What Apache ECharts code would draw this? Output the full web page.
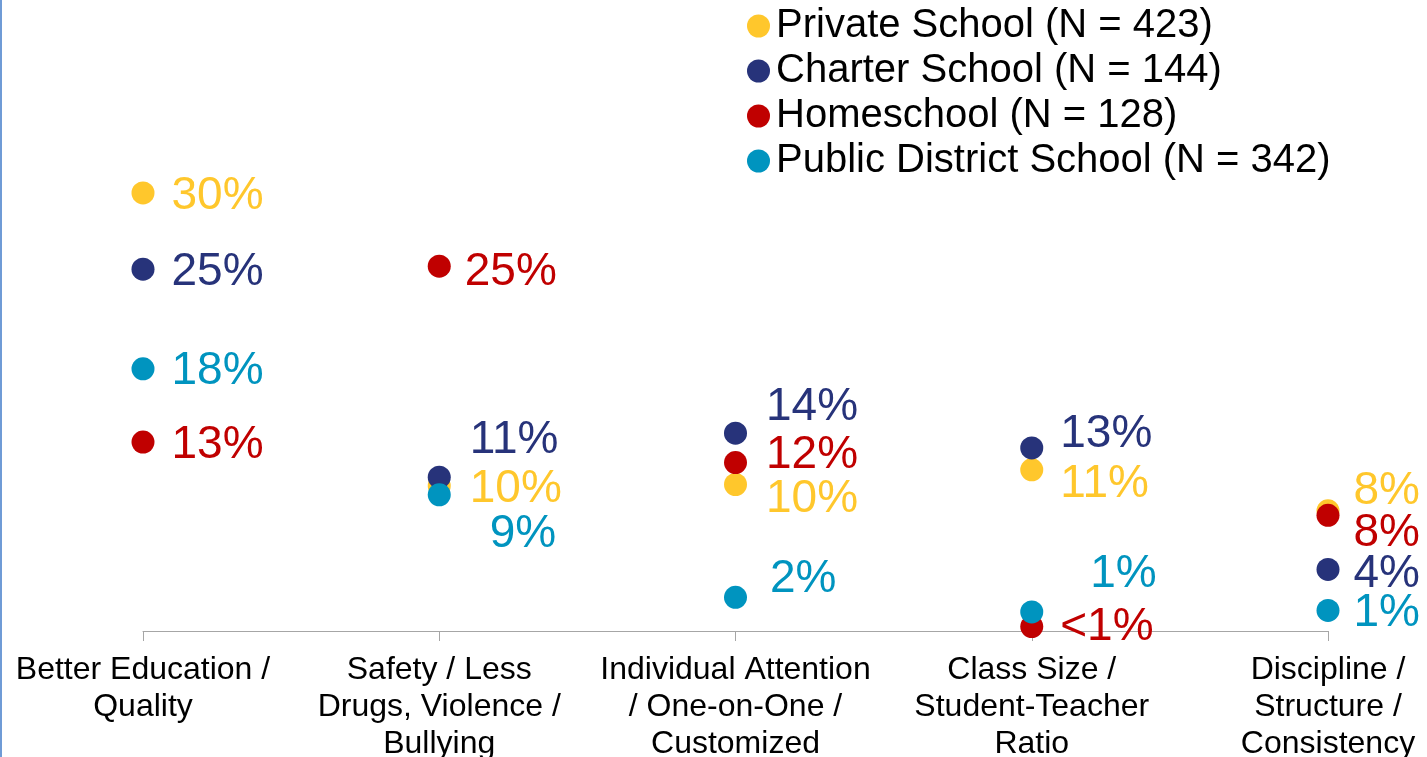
<!DOCTYPE html>
<html>
<head>
<meta charset="utf-8">
<script src="https://cdn.jsdelivr.net/npm/echarts@6/dist/echarts.min.js"></script>
<style>
  html, body { margin: 0; padding: 0; background: #fff; }
  #main { width: 1427px; height: 757px; position: relative; }
  #edge { position: absolute; left: 0; top: 0; width: 2px; height: 757px; background: #6f9bd6; z-index: 5; }
</style>
</head>
<body>
<div id="edge"></div>
<div id="main"></div>
<script>
// reasons for choosing the school (share of respondents, %)
var categories = [
  'Better Education /\nQuality',
  'Safety / Less\nDrugs, Violence /\nBullying',
  'Individual Attention\n/ One-on-One /\nCustomized',
  'Class Size /\nStudent-Teacher\nRatio',
  'Discipline /\nStructure /\nConsistency'
];
var seriesNames = [
  'Private School (N = 423)',
  'Charter School (N = 144)',
  'Homeschool (N = 128)',
  'Public District School (N = 342)'
];
var privateSchool = [29.9, 9.9, 10.0, 11.0, 8.2];
var charterSchool = [24.7, 10.5, 13.5, 12.5, 4.2];
var homeschool = [12.9, 24.9, 11.5, 0.3, 7.9];
var publicDistrict = [17.9, 9.3, 2.3, 1.3, 1.4];

var colors = ['#FFC72C', '#27337A', '#C00000', '#0094BF'];

// hand placed label nudges (like the original chart), [dx, dy] per point
var labelShift = [
  [[0, 0], [2, 0], [2, 12], [0, 11], [-3, -23]],
  [[0, 0], [2, -40], [2, -29], [0, -17], [-3, 2]],
  [[0, 0], [-3, 3], [2, -10], [0, -2], [-3, 15]],
  [[0, 0], [22, 37], [6, -21], [30, -41], [-3, 0]]
];

var chart = echarts.init(document.getElementById('main'));

function pctLabel(p) {
  var v = p.value;
  if (v < 0.5) return '<1%';
  return Math.round(v) + '%';
}

var allValues = [privateSchool, charterSchool, homeschool, publicDistrict];
var series = allValues.map(function (vals, si) {
  return {
    name: seriesNames[si],
    type: 'scatter',
    symbol: 'circle',
    symbolSize: 23,
    itemStyle: { color: colors[si], opacity: 1 },
    label: {
      show: true,
      position: 'right',
      distance: 17,
      color: colors[si],
      fontSize: 46,
      fontFamily: 'Liberation Sans, Arial, sans-serif',
      formatter: pctLabel
    },
    data: vals.map(function (v, i) {
      var s = labelShift[si][i];
      return { value: v, label: { offset: [s[0], s[1] + 3] } };
    })
  };
});

var option = {
  animation: false,
  color: colors,
  grid: { left: 143, right: 99, top: 45, bottom: 126, outerBoundsMode: 'none', containLabel: false },
  legend: {
    orient: 'vertical',
    left: 742,
    top: 1,
    padding: 5,
    icon: 'circle',
    itemWidth: 25,
    itemHeight: 23,
    itemGap: 5,
    textStyle: {
      fontSize: 40,
      lineHeight: 40,
      color: '#000',
      fontFamily: 'Liberation Sans, Arial, sans-serif'
    },
    data: seriesNames
  },
  xAxis: {
    type: 'category',
    data: categories,
    boundaryGap: false,
    axisLine: { lineStyle: { color: '#A6A6A6', width: 1 } },
    axisTick: { show: true, length: 10, lineStyle: { color: '#A6A6A6' } },
    axisLabel: {
      interval: 0,
      margin: 21,
      fontSize: 32,
      lineHeight: 37,
      color: '#000',
      fontFamily: 'Liberation Sans, Arial, sans-serif'
    },
    splitLine: { show: false }
  },
  yAxis: {
    type: 'value',
    min: 0,
    max: 40,
    show: false
  },
  series: series
};

chart.setOption(option);
</script>
</body>
</html>
